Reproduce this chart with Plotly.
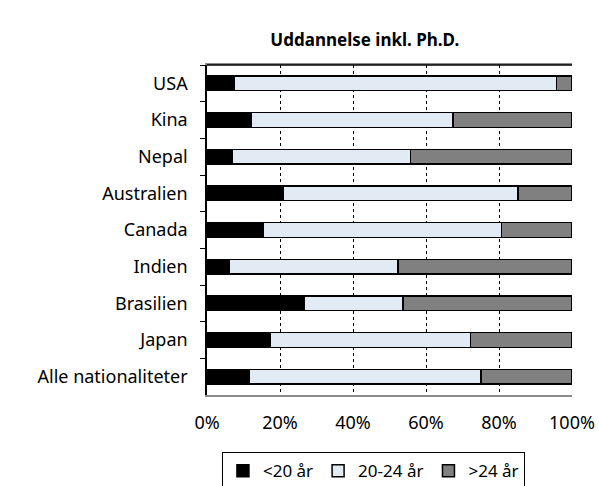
import plotly.graph_objects as go

lande = ['USA', 'Kina', 'Nepal', 'Australien', 'Canada', 'Indien',
         'Brasilien', 'Japan', 'Alle nationaliteter']
under_20 = [7.6, 12.2, 6.9, 20.8, 15.5, 6.0, 26.6, 17.2, 11.5]
fra_20_24 = [88.1, 55.2, 48.9, 64.4, 65.2, 46.3, 27.1, 55.0, 63.5]
over_24 = [4.3, 32.6, 44.2, 14.8, 19.3, 47.7, 46.3, 27.8, 25.0]

x_ticks = [0, 20, 40, 60, 80, 100]
x_labels = ['0%', '20%', '40%', '60%', '80%', '100%']

serier = [('<20 år', under_20, 'rgb(0,0,0)'),
          ('20-24 år', fra_20_24, 'rgb(226,235,244)'),
          ('>24 år', over_24, 'rgb(128,128,128)')]

fig = go.Figure()
for navn, vaerdier, farve in serier:
    fig.add_trace(go.Bar(y=lande, x=vaerdier, name=navn, orientation='h',
                         marker=dict(color=farve,
                                     line=dict(color='black', width=1.5))))

fig.update_layout(
    barmode='stack',
    bargap=0.6,
    width=598, height=486,
    margin=dict(l=207, r=26, t=65, b=91, autoexpand=False),
    paper_bgcolor='white', plot_bgcolor='white',
    font=dict(family='Noto Sans', size=18, color='black'),
    title=dict(text='<b>Uddannelse inkl. Ph.D.</b>', x=0.61, xanchor='center',
               y=0.918, yanchor='middle', font=dict(size=17)),
    xaxis=dict(range=[0, 100], tickmode='array', tickvals=x_ticks,
               ticktext=x_labels, showgrid=True, gridcolor='black',
               griddash='dot', gridwidth=1, showline=True,
               linecolor='rgb(140,140,140)', linewidth=2, mirror=True,
               zeroline=False, ticks='', ticklabelstandoff=10,
               automargin=False),
    yaxis=dict(autorange='reversed', showline=True, linecolor='black',
               linewidth=1.5, ticks='outside', tickson='boundaries',
               ticklen=5, tickcolor='black', showgrid=False,
               ticklabelstandoff=14, automargin=False),
    legend=dict(orientation='h', x=0.456, xanchor='center', y=-0.173,
                yanchor='top', bordercolor='black', borderwidth=1,
                itemwidth=30, traceorder='normal', font=dict(size=17)),
)

# mørk kant øverst i plotområdet
fig.add_shape(type='line', xref='paper', yref='paper', x0=0, x1=1, y0=1, y1=1,
              line=dict(color='black', width=1.5))

# fjern browserens standard-margin, så figuren fylder hele vinduet
fig.write_html('out.html', config={'displayModeBar': False},
               post_script="document.body.style.margin='0';")
